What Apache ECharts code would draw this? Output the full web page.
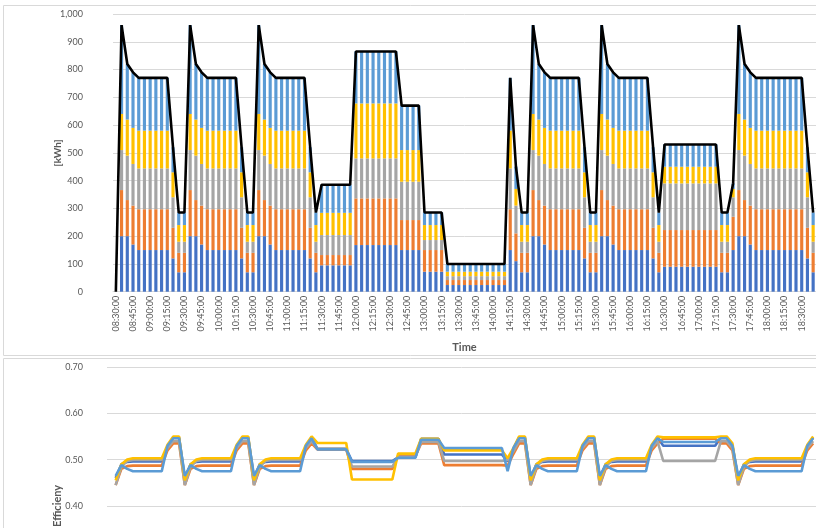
<!DOCTYPE html>
<html>
<head>
<meta charset="utf-8">
<script src="https://cdn.jsdelivr.net/npm/echarts@6/dist/echarts.min.js"></script>
<style>html,body{margin:0;padding:0;background:#fff;overflow:hidden}#c{width:816px;height:700px}</style>
</head>
<body>
<div id="c"></div>
<script>
const categories = [
"08:30:00","08:35:00","08:40:00","08:45:00","08:50:00","08:55:00",
"09:00:00","09:05:00","09:10:00","09:15:00","09:20:00","09:25:00","09:30:00","09:35:00","09:40:00","09:45:00","09:50:00","09:55:00",
"10:00:00","10:05:00","10:10:00","10:15:00","10:20:00","10:25:00","10:30:00","10:35:00","10:40:00","10:45:00","10:50:00","10:55:00",
"11:00:00","11:05:00","11:10:00","11:15:00","11:20:00","11:25:00","11:30:00","11:35:00","11:40:00","11:45:00","11:50:00","11:55:00",
"12:00:00","12:05:00","12:10:00","12:15:00","12:20:00","12:25:00","12:30:00","12:35:00","12:40:00","12:45:00","12:50:00","12:55:00",
"13:00:00","13:05:00","13:10:00","13:15:00","13:20:00","13:25:00","13:30:00","13:35:00","13:40:00","13:45:00","13:50:00","13:55:00",
"14:00:00","14:05:00","14:10:00","14:15:00","14:20:00","14:25:00","14:30:00","14:35:00","14:40:00","14:45:00","14:50:00","14:55:00",
"15:00:00","15:05:00","15:10:00","15:15:00","15:20:00","15:25:00","15:30:00","15:35:00","15:40:00","15:45:00","15:50:00","15:55:00",
"16:00:00","16:05:00","16:10:00","16:15:00","16:20:00","16:25:00","16:30:00","16:35:00","16:40:00","16:45:00","16:50:00","16:55:00",
"17:00:00","17:05:00","17:10:00","17:15:00","17:20:00","17:25:00","17:30:00","17:35:00","17:40:00","17:45:00","17:50:00","17:55:00",
"18:00:00","18:05:00","18:10:00","18:15:00","18:20:00","18:25:00","18:30:00","18:35:00","18:40:00"
];

const kwh1 = [0,
200,200,170,150,150,150,150,150,150,120,70,70,
200,200,170,150,150,150,150,150,150,120,70,70,
200,200,170,150,150,150,150,150,150,120,70,
95,95,95,95,95,95,
168,168,168,168,168,168,168,168,
150,150,150,150,
72,72,72,72,
24,24,24,24,24,24,24,24,24,24,24,
150,110,70,70,
200,200,170,150,150,150,150,150,150,120,70,70,
200,200,170,150,150,150,150,150,150,120,70,
90,90,90,90,90,90,90,90,90,90,
70,70,
150,
200,200,170,150,150,150,150,150,150,150,150,150,120,70];

const kwh2 = [0,
166,130,140,147,147,147,147,147,147,110,70,70,
166,130,140,147,147,147,147,147,147,110,70,70,
166,130,140,147,147,147,147,147,147,110,70,
37,37,37,37,37,37,
168,168,168,168,168,168,168,168,
108,108,108,108,
78,78,78,78,
18,18,18,18,18,18,18,18,18,18,18,
147,100,70,70,
166,130,140,147,147,147,147,147,147,110,70,70,
166,130,140,147,147,147,147,147,147,110,70,
132,132,132,132,132,132,132,132,132,132,
70,70,
120,
166,130,140,147,147,147,147,147,147,147,147,147,110,70];

const kwh3 = [0,
144,160,150,147,147,147,147,147,147,110,40,40,
144,160,150,147,147,147,147,147,147,110,40,40,
144,160,150,147,147,147,147,147,147,110,40,
72,72,72,72,72,72,
144,144,144,144,144,144,144,144,
138,138,138,138,
36,36,36,36,
14,14,14,14,14,14,14,14,14,14,14,
147,100,40,40,
144,160,150,147,147,147,147,147,147,110,40,40,
144,160,150,147,147,147,147,147,147,110,40,
168,168,168,168,168,168,168,168,168,168,
40,40,
70,
144,160,150,147,147,147,147,147,147,147,147,147,110,40];

const kwh4 = [0,
130,130,130,136,136,136,136,136,136,90,60,60,
130,130,130,136,136,136,136,136,136,90,60,60,
130,130,130,136,136,136,136,136,136,90,60,
80,80,80,80,80,80,
198,198,198,198,198,198,198,198,
114,114,114,114,
54,54,54,54,
16,16,16,16,16,16,16,16,16,16,16,
136,60,60,60,
130,130,130,136,136,136,136,136,136,90,60,60,
130,130,130,136,136,136,136,136,136,90,60,
60,60,60,60,60,60,60,60,60,60,
60,60,
30,
130,130,130,136,136,136,136,136,136,136,136,136,90,60];

const kwh5 = [0,
320,200,200,190,190,190,190,190,190,90,45,45,
320,200,200,190,190,190,190,190,190,90,45,45,
320,200,200,190,190,190,190,190,190,90,45,
101,101,101,101,101,101,
187,187,187,187,187,187,187,187,
160,160,160,160,
45,45,45,45,
28,28,28,28,28,28,28,28,28,28,28,
190,80,45,45,
320,200,200,190,190,190,190,190,190,90,45,45,
320,200,200,190,190,190,190,190,190,90,45,
80,80,80,80,80,80,80,80,80,80,
45,45,
20,
320,200,200,190,190,190,190,190,190,190,190,190,90,45];

const kwhTotal = [0,
960,820,790,770,770,770,770,770,770,520,285,285,
960,820,790,770,770,770,770,770,770,520,285,285,
960,820,790,770,770,770,770,770,770,520,285,
385,385,385,385,385,385,
865,865,865,865,865,865,865,865,
670,670,670,670,
285,285,285,285,
100,100,100,100,100,100,100,100,100,100,100,
770,450,285,285,
960,820,790,770,770,770,770,770,770,520,285,285,
960,820,790,770,770,770,770,770,770,520,285,
530,530,530,530,530,530,530,530,530,530,
285,285,
390,
960,820,790,770,770,770,770,770,770,770,770,770,520,285];

const eff1 = [null,
0.460,0.490,0.495,0.496,0.496,0.496,0.496,0.496,0.496,0.528,0.548,0.548,
0.460,0.490,0.495,0.496,0.496,0.496,0.496,0.496,0.496,0.528,0.548,0.548,
0.460,0.490,0.495,0.496,0.496,0.496,0.496,0.496,0.496,0.528,0.548,
0.523,0.523,0.523,0.523,0.523,0.523,
0.497,0.497,0.497,0.497,0.497,0.497,0.497,0.497,
0.505,0.505,0.505,0.505,
0.545,0.545,0.545,0.545,
0.511,0.511,0.511,0.511,0.511,0.511,0.511,0.511,0.511,0.511,0.511,
0.496,0.522,0.548,0.548,
0.460,0.490,0.495,0.496,0.496,0.496,0.496,0.496,0.496,0.528,0.548,0.548,
0.460,0.490,0.495,0.496,0.496,0.496,0.496,0.496,0.496,0.528,0.548,
0.530,0.530,0.530,0.530,0.530,0.530,0.530,0.530,0.530,0.530,
0.548,0.548,
0.530,
0.460,0.490,0.495,0.496,0.496,0.496,0.496,0.496,0.496,0.496,0.496,0.496,0.528,0.548];

const eff2 = [null,
0.445,0.480,0.486,0.487,0.487,0.487,0.487,0.487,0.487,0.520,0.535,0.535,
0.445,0.480,0.486,0.487,0.487,0.487,0.487,0.487,0.487,0.520,0.535,0.535,
0.445,0.480,0.486,0.487,0.487,0.487,0.487,0.487,0.487,0.520,0.535,
0.522,0.522,0.522,0.522,0.522,0.522,
0.480,0.480,0.480,0.480,0.480,0.480,0.480,0.480,
0.508,0.508,0.508,0.508,
0.535,0.535,0.535,0.535,
0.488,0.488,0.488,0.488,0.488,0.488,0.488,0.488,0.488,0.488,0.488,
0.487,0.512,0.535,0.535,
0.445,0.480,0.486,0.487,0.487,0.487,0.487,0.487,0.487,0.520,0.535,0.535,
0.445,0.480,0.486,0.487,0.487,0.487,0.487,0.487,0.487,0.520,0.535,
0.545,0.545,0.545,0.545,0.545,0.545,0.545,0.545,0.545,0.545,
0.535,0.535,
0.520,
0.445,0.480,0.486,0.487,0.487,0.487,0.487,0.487,0.487,0.487,0.487,0.487,0.520,0.535];

const eff3 = [null,
0.445,0.485,0.497,0.499,0.499,0.499,0.499,0.499,0.499,0.525,0.540,0.540,
0.445,0.485,0.497,0.499,0.499,0.499,0.499,0.499,0.499,0.525,0.540,0.540,
0.445,0.485,0.497,0.499,0.499,0.499,0.499,0.499,0.499,0.525,0.540,
0.524,0.524,0.524,0.524,0.524,0.524,
0.485,0.485,0.485,0.485,0.485,0.485,0.485,0.485,
0.506,0.506,0.506,0.506,
0.538,0.538,0.538,0.538,
0.497,0.497,0.497,0.497,0.497,0.497,0.497,0.497,0.497,0.497,0.497,
0.499,0.518,0.540,0.540,
0.445,0.485,0.497,0.499,0.499,0.499,0.499,0.499,0.499,0.525,0.540,0.540,
0.445,0.485,0.497,0.499,0.499,0.499,0.499,0.499,0.499,0.525,0.540,
0.497,0.497,0.497,0.497,0.497,0.497,0.497,0.497,0.497,0.497,
0.540,0.540,
0.525,
0.445,0.485,0.497,0.499,0.499,0.499,0.499,0.499,0.499,0.499,0.499,0.499,0.525,0.540];

const eff4 = [null,
0.455,0.490,0.500,0.503,0.503,0.503,0.503,0.503,0.503,0.532,0.550,0.550,
0.455,0.490,0.500,0.503,0.503,0.503,0.503,0.503,0.503,0.532,0.550,0.550,
0.455,0.490,0.500,0.503,0.503,0.503,0.503,0.503,0.503,0.532,0.550,
0.536,0.536,0.536,0.536,0.536,0.536,
0.457,0.457,0.457,0.457,0.457,0.457,0.457,0.457,
0.513,0.513,0.513,0.513,
0.545,0.545,0.545,0.545,
0.520,0.520,0.520,0.520,0.520,0.520,0.520,0.520,0.520,0.520,0.520,
0.503,0.525,0.550,0.550,
0.455,0.490,0.500,0.503,0.503,0.503,0.503,0.503,0.503,0.532,0.550,0.550,
0.455,0.490,0.500,0.503,0.503,0.503,0.503,0.503,0.503,0.532,0.550,
0.548,0.548,0.548,0.548,0.548,0.548,0.548,0.548,0.548,0.548,
0.550,0.550,
0.535,
0.455,0.490,0.500,0.503,0.503,0.503,0.503,0.503,0.503,0.503,0.503,0.503,0.532,0.550];

const eff5 = [null,
0.465,0.488,0.480,0.475,0.475,0.475,0.475,0.475,0.475,0.530,0.546,0.546,
0.465,0.488,0.480,0.475,0.475,0.475,0.475,0.475,0.475,0.530,0.546,0.546,
0.465,0.488,0.480,0.475,0.475,0.475,0.475,0.475,0.475,0.530,0.546,
0.522,0.522,0.522,0.522,0.522,0.522,
0.495,0.495,0.495,0.495,0.495,0.495,0.495,0.495,
0.504,0.504,0.504,0.504,
0.543,0.543,0.543,0.543,
0.525,0.525,0.525,0.525,0.525,0.525,0.525,0.525,0.525,0.525,0.525,
0.475,0.525,0.546,0.546,
0.465,0.488,0.480,0.475,0.475,0.475,0.475,0.475,0.475,0.530,0.546,0.546,
0.465,0.488,0.480,0.475,0.475,0.475,0.475,0.475,0.475,0.530,0.546,
0.538,0.538,0.538,0.538,0.538,0.538,0.538,0.538,0.538,0.538,
0.546,0.546,
0.530,
0.465,0.488,0.480,0.475,0.475,0.475,0.475,0.475,0.475,0.475,0.475,0.475,0.530,0.546];

const colors = ["#4472C4","#ED7D31","#A5A5A5","#FFC000","#5B9BD5"];
const kwhSeries = [kwh1, kwh2, kwh3, kwh4, kwh5];
const effSeries = [eff1, eff2, eff3, eff4, eff5];

const FONT = "Lato, 'Liberation Sans', sans-serif";
const TXT = "#595959";
const GRID = "#d9d9d9";

const chart = echarts.init(document.getElementById('c'), null, {renderer: 'canvas'});

const series = [];
kwhSeries.forEach((d, k) => series.push({
  type: 'bar', stack: 'kwh', xAxisIndex: 0, yAxisIndex: 0, data: d,
  itemStyle: {color: colors[k]}, barCategoryGap: '45%', silent: true
}));
series.push({
  type: 'line', xAxisIndex: 0, yAxisIndex: 0, data: kwhTotal, symbol: 'none',
  lineStyle: {color: '#000', width: 2.6}, itemStyle: {color: '#000'}, z: 5, silent: true
});
effSeries.forEach((d, k) => series.push({
  type: 'line', xAxisIndex: 1, yAxisIndex: 1, data: d, symbol: 'none',
  lineStyle: {color: colors[k], width: 2.6}, itemStyle: {color: colors[k]}, silent: true
}));

chart.setOption({
  animation: false,
  textStyle: {fontFamily: FONT},
  graphic: [
    {type: 'rect', shape: {x: 3.5, y: 5.5, width: 830, height: 350}, style: {fill: 'none', stroke: GRID, lineWidth: 1}, silent: true, z: -10},
    {type: 'rect', shape: {x: 3.5, y: 358.5, width: 830, height: 300}, style: {fill: 'none', stroke: GRID, lineWidth: 1}, silent: true, z: -10}
  ],
  grid: [
    {left: 113, top: 14, width: 705.2, height: 277.7},
    {left: 107, top: 367, width: 710.2, height: 277.8}
  ],
  xAxis: [
    {type: 'category', gridIndex: 0, data: categories, boundaryGap: true,
     axisLine: {lineStyle: {color: GRID}}, axisTick: {show: false},
     axisLabel: {rotate: 90, interval: 2, fontSize: 9, color: TXT, margin: 4, fontFamily: FONT},
     name: 'Time', nameLocation: 'middle', nameGap: 50, nameMoveOverlap: false,
     nameTextStyle: {fontWeight: 'bold', fontSize: 11, color: TXT, fontFamily: FONT}},
    {type: 'category', gridIndex: 1, data: categories, boundaryGap: true, show: false}
  ],
  yAxis: [
    {type: 'value', gridIndex: 0, min: 0, max: 1000, interval: 100,
     axisLine: {show: false}, axisTick: {show: false},
     splitLine: {lineStyle: {color: GRID}},
     axisLabel: {fontSize: 9, color: TXT, margin: 30, fontFamily: FONT,
       formatter: v => v.toLocaleString('en-US')},
     name: '[kWh]', nameLocation: 'middle', nameGap: 50, nameRotate: 90, nameMoveOverlap: false,
     nameTextStyle: {fontWeight: 'bold', fontSize: 10, color: TXT, fontFamily: FONT}},
    {type: 'value', gridIndex: 1, min: 0.1, max: 0.7, interval: 0.1,
     axisLine: {show: false}, axisTick: {show: false},
     splitLine: {lineStyle: {color: GRID}},
     axisLabel: {fontSize: 9, color: TXT, margin: 24, fontFamily: FONT,
       formatter: v => v.toFixed(2)},
     name: 'Efficieny', nameLocation: 'middle', nameGap: 44, nameRotate: 90, nameMoveOverlap: false,
     nameTextStyle: {fontWeight: 'bold', fontSize: 11, color: TXT, fontFamily: FONT}}
  ],
  series: series
});
</script>
</body>
</html>
